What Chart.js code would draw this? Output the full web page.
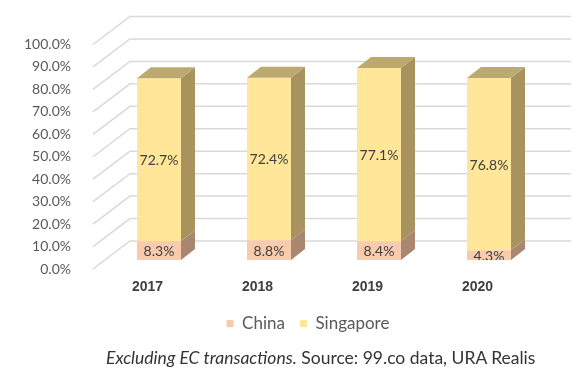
<!DOCTYPE html>
<html>
<head>
<meta charset="utf-8">
<script src="https://cdn.jsdelivr.net/npm/chart.js@4.4.1/dist/chart.umd.min.js"></script>
<style>
  html, body { margin: 0; padding: 0; background: #fff; }
  #wrap { position: relative; width: 581px; height: 374px; overflow: hidden; }
  #box { position: absolute; left: 0; top: 0; width: 581px; height: 348px; }
  #note { position: absolute; left: 106px; top: 347px; font: 17.5px Lato, sans-serif; color: #333; white-space: nowrap; }
</style>
</head>
<body>
<div id="wrap">
  <div id="box"><canvas id="c"></canvas></div>
  <div id="note"><i>Excluding EC transactions.</i> Source: 99.co data, URA Realis</div>
</div>
<script>
// data
const years = ['2017', '2018', '2019', '2020'];
const china = [8.3, 8.8, 8.4, 4.3];
const singapore = [72.7, 72.4, 77.1, 76.8];

const front = ['#F8CBAD', '#FFE699'];
const side = ['#A8866F', '#A8935F'];
const topColor = '#BCA96F';

// 3d depth of the bars
const DX = 14, DY = -11;

const threeD = {
    id: 'threeD',
    afterLayout(chart) {
        // legend sits a bit right of centre in the original
        chart.legend.left += 36;
        chart.legend.right += 36;
        chart.legend.top -= 2;
        chart.legend.bottom -= 2;
    },
    beforeDatasetsDraw(chart) {
        const { ctx, chartArea: a, scales: { y } } = chart;
        ctx.save();
        ctx.strokeStyle = '#d9d9d9';
        ctx.lineWidth = 1.5;
        y.ticks.forEach(t => {
            const py = y.getPixelForValue(t.value);
            ctx.beginPath();
            ctx.moveTo(a.left - 11, py + 9);
            ctx.lineTo(a.left + 26, py - 19);
            ctx.lineTo(a.right + 27, py - 19);
            ctx.stroke();
        });
        ctx.restore();
    },
    afterDatasetsDraw(chart) {
        const { ctx, chartArea: a } = chart;
        const n = chart.data.datasets.length;
        ctx.save();
        chart.data.datasets.forEach((ds, d) => {
            chart.getDatasetMeta(d).data.forEach(el => {
                const { x, y, base, width } = el.getProps(['x', 'y', 'base', 'width'], true);
                const l = x - width / 2, r = x + width / 2;
                ctx.fillStyle = side[d];
                ctx.beginPath();
                ctx.moveTo(r, y); ctx.lineTo(r + DX, y + DY);
                ctx.lineTo(r + DX, base + DY); ctx.lineTo(r, base);
                ctx.closePath(); ctx.fill();
                if (d === n - 1) {
                    ctx.fillStyle = topColor;
                    ctx.beginPath();
                    ctx.moveTo(l, y); ctx.lineTo(l + DX, y + DY);
                    ctx.lineTo(r + DX, y + DY); ctx.lineTo(r, y);
                    ctx.closePath(); ctx.fill();
                }
            });
        });
        // value labels
        ctx.beginPath();
        ctx.rect(0, 0, chart.width, a.bottom);
        ctx.clip();
        ctx.font = '14px Lato, sans-serif';
        ctx.fillStyle = '#404040';
        ctx.textAlign = 'center';
        ctx.textBaseline = 'middle';
        chart.data.datasets.forEach((ds, d) => {
            chart.getDatasetMeta(d).data.forEach((el, i) => {
                const { x, y, base } = el.getProps(['x', 'y', 'base'], true);
                ctx.fillText(ds.data[i].toFixed(1) + '%', x, (y + base) / 2 + 1);
            });
        });
        ctx.restore();
    }
};

new Chart(document.getElementById('c'), {
    type: 'bar',
    data: {
        labels: years,
        datasets: [
            { label: 'China', data: china, backgroundColor: front[0] },
            { label: 'Singapore', data: singapore, backgroundColor: front[1] }
        ]
    },
    options: {
        responsive: true,
        maintainAspectRatio: false,
        animation: false,
        layout: { padding: { top: 35.5, right: 37, left: 0, bottom: 4 } },
        datasets: { bar: { categoryPercentage: 1, barPercentage: 0.4 } },
        scales: {
            x: {
                stacked: true,
                grid: { display: false },
                border: { display: false },
                ticks: { color: '#404040', font: { family: 'Liberation Sans', size: 14, weight: 'bold' }, padding: 11, labelOffset: -11.5 },
                afterFit: s => { s.height = 42; }
            },
            y: {
                stacked: true,
                min: 0,
                max: 100,
                grid: { display: false },
                border: { display: false },
                ticks: { stepSize: 10, color: '#595959', font: { family: 'Lato', size: 14 }, padding: 25, labelOffset: 9,
                    callback: v => v.toFixed(1) + '%' },
                afterFit: s => { s.width = 104; }
            }
        },
        plugins: {
            legend: {
                position: 'bottom',
                labels: { color: '#595959', font: { family: 'Lato', size: 17 }, boxWidth: 7, boxHeight: 7, padding: 15 }
            },
            tooltip: { enabled: false }
        }
    },
    plugins: [threeD]
});
</script>
</body>
</html>
